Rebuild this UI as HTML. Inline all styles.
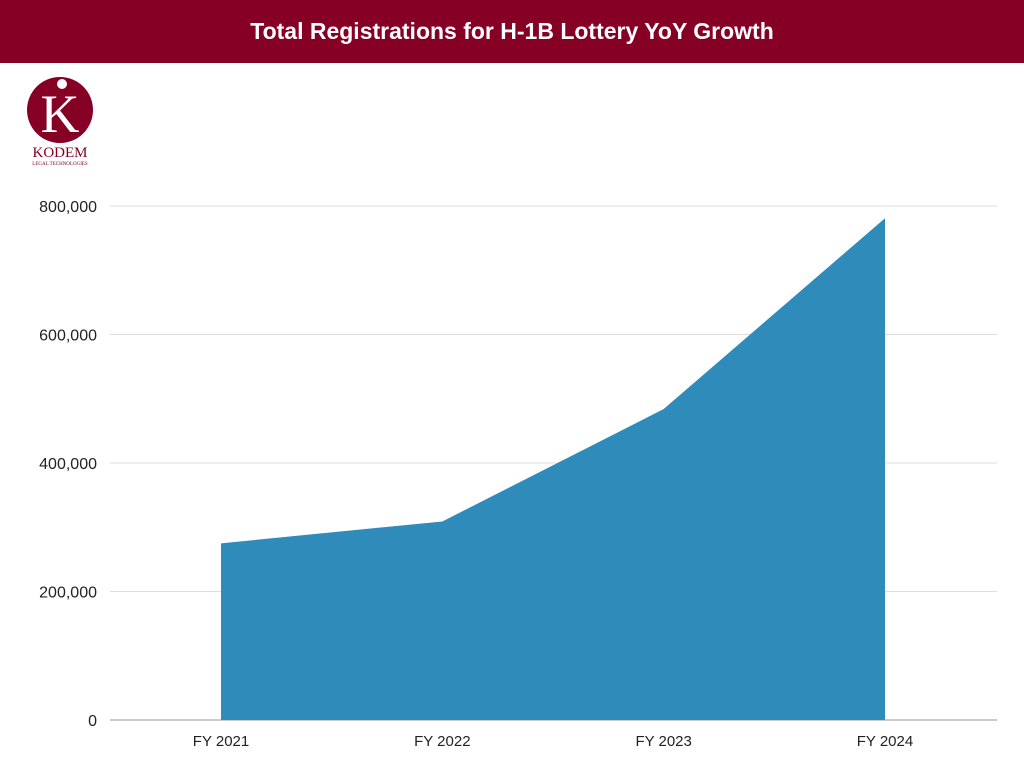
<!DOCTYPE html>
<html><head><meta charset="utf-8"><style>
body{margin:0;width:1024px;height:768px;background:#fff;overflow:hidden;font-family:"Liberation Sans",sans-serif}
#hdr{position:absolute;left:0;top:0;width:1024px;height:63px;background:#850024;color:#fff;font-weight:bold;font-size:23px;text-align:center;line-height:63px}
</style></head><body>
<div id="hdr">Total Registrations for H-1B Lottery YoY Growth</div>
<svg id="logo" style="position:absolute;left:20px;top:70px" width="90" height="100">
<circle cx="40" cy="40" r="33" fill="#850024"/>
<text x="40" y="62" text-anchor="middle" font-family="Liberation Serif" font-size="54" fill="#fff">K</text>
<circle cx="42" cy="14" r="5" fill="#fff"/>
<text x="40" y="87" text-anchor="middle" font-family="Liberation Serif" font-size="15" fill="#850024">KODEM</text>
<text x="40" y="95" text-anchor="middle" font-family="Liberation Serif" font-size="5" fill="#850024">LEGAL TECHNOLOGIES</text>
</svg>
<svg id="chart" width="1024" height="768" style="position:absolute;left:0;top:0"></svg>
<script>
const categories=["FY 2021","FY 2022","FY 2023","FY 2024"];
const registrations=[275000,309000,484000,781000];
const yTicks=[0,200000,400000,600000,800000];
const yTickLabels=["0","200,000","400,000","600,000","800,000"];
const svg=document.getElementById('chart');
const NS="http://www.w3.org/2000/svg";
const y0=720,y1=206,x0=110,x1=997;
function yScale(v){return y0-(v/800000)*(y0-y1);}
function xScale(i){return 221+i*221.33;}
function mk(t,a){const e=document.createElementNS(NS,t);for(const k in a)e.setAttribute(k,a[k]);svg.appendChild(e);return e;}
yTicks.forEach((v,i)=>{
 const l=mk('line',{x1:x0,x2:x1,y1:yScale(v),y2:yScale(v),stroke:v===0?'#999':'#ddd','stroke-width':1});
 
 
 const t=mk('text',{x:97,y:yScale(v)+6,'text-anchor':'end','font-size':16,fill:'#222','font-family':'Liberation Sans'});
 t.textContent=yTickLabels[i];
 
 
});
let d='M'+xScale(0)+','+y0;
registrations.forEach((v,i)=>{d+=' L'+xScale(i)+','+yScale(v);});
d+=' L'+xScale(registrations.length-1)+','+y0+' Z';
const a=mk('path',{d:d,fill:'#2e8bba'});


categories.forEach((c,i)=>{
 const t=mk('text',{x:xScale(i),y:746,'text-anchor':'middle','font-size':15,fill:'#222','font-family':'Liberation Sans'});
 t.textContent=c;
 
 
});
</script>
</body></html>
